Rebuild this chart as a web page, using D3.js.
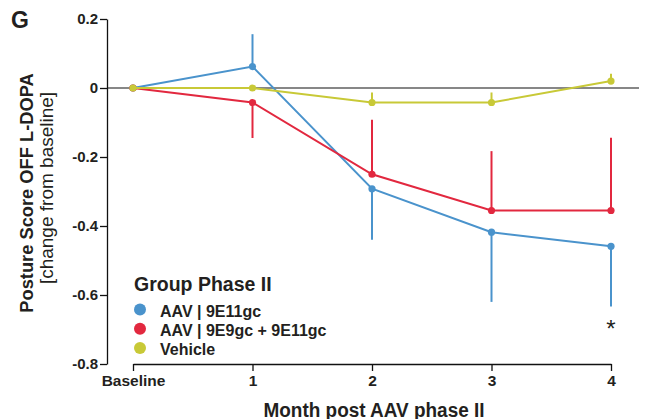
<!DOCTYPE html>
<html>
<head>
<meta charset="utf-8">
<script src="https://cdn.jsdelivr.net/npm/d3@7"></script>
<style>
  html, body { margin: 0; padding: 0; background: #fff; }
  svg { display: block; font-family: "Liberation Sans", Arial, Helvetica, sans-serif; }
</style>
</head>
<body>
<svg id="chart" width="648" height="419"></svg>
<script>
// ---- data ----
const categories = ["Baseline", "1", "2", "3", "4"];
const seriesNames = ["AAV | 9E11gc", "AAV | 9E9gc + 9E11gc", "Vehicle"];
const seriesColors = ["#4a93cc", "#e2283f", "#c8c937"];
const blueValues = [0, 0.062, -0.292, -0.418, -0.459];
const redValues = [0, -0.042, -0.25, -0.355, -0.355];
const vehicleValues = [0, 0, -0.042, -0.042, 0.02];
// signed error-bar extents (drawn one-sided from the mean)
const blueErr = [0, 0.094, -0.148, -0.202, -0.174];
const redErr = [0, -0.103, 0.158, 0.172, 0.211];
const vehicleErr = [0, 0, 0.029, 0.029, 0.021];
const yTicks = [0.2, 0, -0.2, -0.4, -0.6, -0.8];
const yTickLabels = ["0.2", "0", "-0.2", "-0.4", "-0.6", "-0.8"];
const significance = [{ cat: "4", value: -0.7, label: "*" }];

const series = [
  { name: seriesNames[0], color: seriesColors[0], values: blueValues, err: blueErr },
  { name: seriesNames[1], color: seriesColors[1], values: redValues, err: redErr },
  { name: seriesNames[2], color: seriesColors[2], values: vehicleValues, err: vehicleErr }
];

// ---- layout ----
const svg = d3.select("#chart");
const textColor = "#231f20";
const x = d3.scalePoint().domain(categories).range([133, 611]);
const y = d3.scaleLinear().domain([-0.8, 0.2]).range([364, 19]);
const yAxisX = 107;

// zero reference line
svg.append("line")
  .attr("x1", yAxisX).attr("x2", 639)
  .attr("y1", y(0)).attr("y2", y(0))
  .attr("stroke", "#111").attr("stroke-width", 1.1);

// y axis
const yAxis = d3.axisLeft(y)
  .tickValues(yTicks)
  .tickFormat((d, i) => yTickLabels[i])
  .tickSize(7).tickSizeOuter(0).tickPadding(2);
const gy = svg.append("g").attr("transform", `translate(${yAxisX},0)`).call(yAxis);
gy.selectAll("path, line").attr("stroke", "#111").attr("stroke-width", 1.3);
gy.selectAll("text").attr("fill", textColor).attr("font-size", 15).attr("font-weight", "bold");

// x axis
const xAxis = d3.axisBottom(x).tickSize(7).tickSizeOuter(0).tickPadding(4);
const gx = svg.append("g").attr("transform", `translate(0,${y(-0.8)})`).call(xAxis);
gx.selectAll("path, line").attr("stroke", "#111").attr("stroke-width", 1.3);
gx.selectAll("text").attr("fill", textColor).attr("font-size", 15.5).attr("font-weight", "bold");

// series
const line = d3.line().x((d, i) => x(categories[i])).y(d => y(d));
series.forEach(s => {
  const g = svg.append("g");
  g.selectAll("line.err").data(s.values).join("line")
    .attr("class", "err")
    .attr("x1", (d, i) => x(categories[i])).attr("x2", (d, i) => x(categories[i]))
    .attr("y1", d => y(d))
    .attr("y2", (d, i) => y(d + s.err[i]))
    .attr("stroke", s.color).attr("stroke-width", 2);
  g.append("path").datum(s.values)
    .attr("d", line).attr("fill", "none")
    .attr("stroke", s.color).attr("stroke-width", 2);
  g.selectAll("circle").data(s.values).join("circle")
    .attr("cx", (d, i) => x(categories[i])).attr("cy", d => y(d))
    .attr("r", 3.6).attr("fill", s.color);
});

// significance marks
svg.selectAll("text.sig").data(significance).join("text")
  .attr("class", "sig")
  .attr("x", d => x(d.cat)).attr("y", d => y(d.value) + 7)
  .attr("text-anchor", "middle").attr("font-size", 24)
  .attr("fill", textColor).text(d => d.label);

// axis titles
svg.append("text")
  .attr("x", 374).attr("y", 416.5)
  .attr("text-anchor", "middle").attr("font-size", 20).attr("font-weight", "bold")
  .attr("textLength", 221).attr("lengthAdjust", "spacingAndGlyphs")
  .attr("fill", textColor).text("Month post AAV phase II");

svg.append("text")
  .attr("transform", "translate(33,193) rotate(-90)")
  .attr("text-anchor", "middle").attr("font-size", 18.3).attr("font-weight", "bold")
  .attr("fill", textColor).text("Posture Score OFF L-DOPA");

svg.append("text")
  .attr("transform", "translate(53,188) rotate(-90)")
  .attr("text-anchor", "middle").attr("font-size", 19)
  .attr("fill", textColor).text("[change from baseline]");

// panel letter
svg.append("text")
  .attr("x", 11).attr("y", 28)
  .attr("font-size", 23).attr("font-weight", "bold")
  .attr("fill", textColor).text("G");

// legend
const legend = svg.append("g");
legend.append("text")
  .attr("x", 134).attr("y", 291)
  .attr("font-size", 19.5).attr("font-weight", "bold")
  .attr("fill", textColor).text("Group Phase II");
const items = legend.selectAll("g.item").data(series).join("g")
  .attr("class", "item")
  .attr("transform", (d, i) => `translate(0,${309.5 + i * 19.2})`);
items.append("circle").attr("cx", 140).attr("cy", 0).attr("r", 6).attr("fill", d => d.color);
items.append("text").attr("x", 160).attr("y", 7)
  .attr("font-size", 16).attr("font-weight", "bold")
  .attr("fill", textColor).text(d => d.name);
</script>
</body>
</html>
